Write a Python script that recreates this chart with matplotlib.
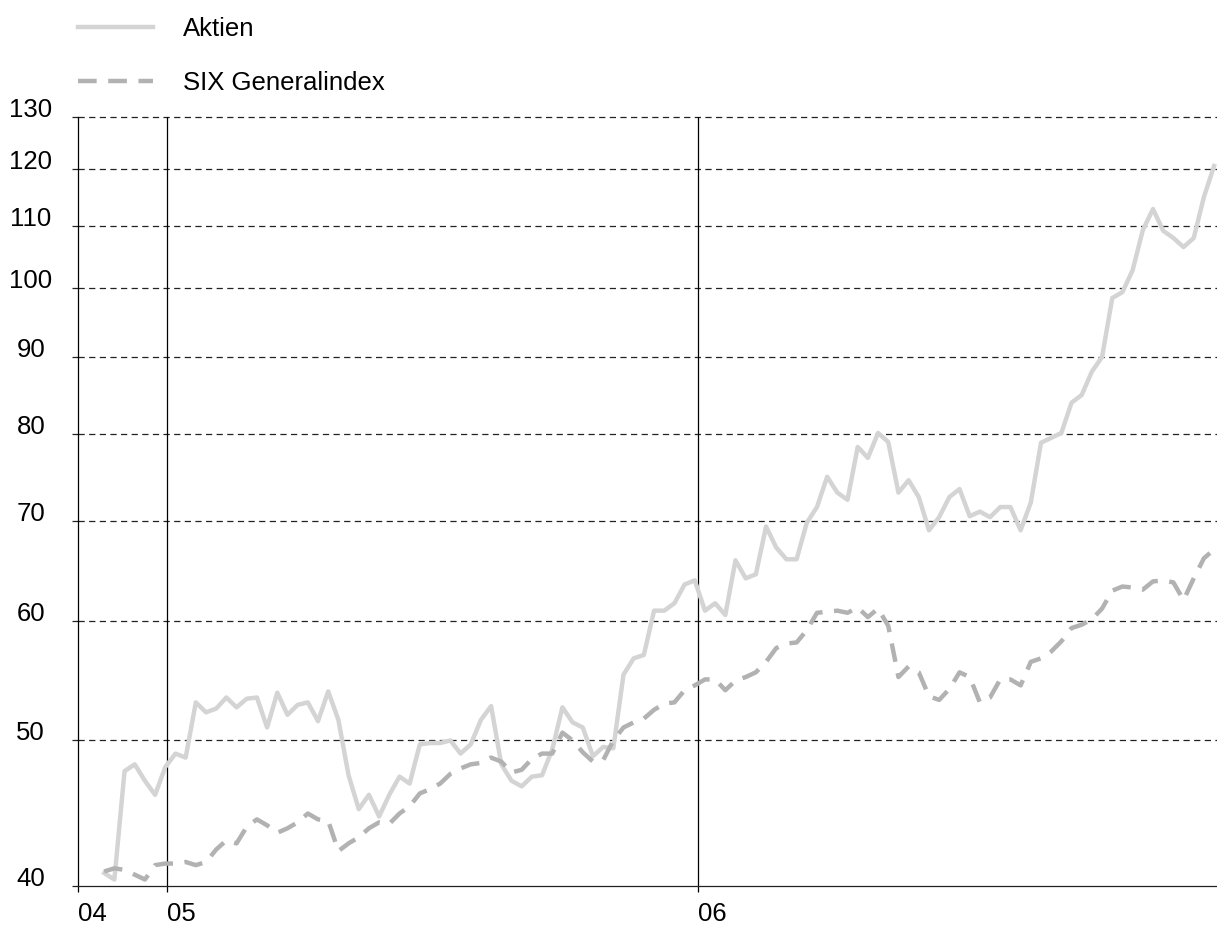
import numpy as np
import pandas as pd
import matplotlib
matplotlib.use('Agg')
import matplotlib.pyplot as plt
import matplotlib.dates as mdates

plt.rcParams['font.family'] = ['Liberation Sans', 'DejaVu Sans']

# weekly closes, indexed
dates = pd.date_range('2004-11-19', periods=110, freq='7D')

aktien = [40.8, 40.4, 47.7, 48.2, 47.0, 46.0, 48.0, 49.0, 48.7, 53.0,
          52.2, 52.5, 53.4, 52.6, 53.3, 53.4, 51.0, 53.8, 52.0, 52.8,
          53.0, 51.5, 53.9, 51.6, 47.4, 45.0, 46.0, 44.5, 46.0, 47.3,
          46.8, 49.7, 49.8, 49.8, 50.0, 49.0, 49.7, 51.6, 52.7, 48.2,
          47.0, 46.6, 47.3, 47.4, 49.3, 52.6, 51.4, 51.0, 48.8, 49.5,
          49.4, 55.3, 56.7, 57.0, 61.0, 61.0, 61.7, 63.5, 63.9, 61.0,
          61.7, 60.6, 65.9, 64.1, 64.5, 69.4, 67.2, 66.0, 66.0, 69.8,
          71.5, 74.9, 73.1, 72.3, 78.4, 77.1, 80.1, 79.0, 73.1, 74.5,
          72.6, 69.0, 70.4, 72.6, 73.5, 70.5, 71.0, 70.4, 71.5, 71.5,
          69.0, 72.0, 78.9, 79.5, 80.1, 83.9, 84.9, 88.0, 90.0, 98.5,
          99.4, 102.8, 109.3, 112.9, 109.2, 108.0, 106.5, 108.0, 115.0, 120.6]

six = [40.9, 41.1, 41.0, 40.7, 40.4, 41.3, 41.4, 41.4, 41.5, 41.3,
       41.5, 42.3, 42.9, 42.7, 43.8, 44.3, 43.9, 43.4, 43.7, 44.1,
       44.7, 44.3, 44.2, 42.2, 42.7, 43.1, 43.7, 44.1, 44.0, 44.7,
       45.2, 46.1, 46.4, 46.8, 47.5, 47.9, 48.2, 48.3, 48.7, 48.4,
       47.6, 47.8, 48.6, 49.0, 49.0, 50.6, 50.0, 49.1, 48.4, 48.5,
       50.0, 51.0, 51.4, 51.7, 52.4, 52.9, 53.0, 54.0, 54.4, 54.9,
       54.9, 54.0, 54.8, 55.1, 55.5, 56.4, 57.6, 58.0, 58.1, 59.2,
       60.8, 60.9, 61.0, 60.8, 61.3, 60.4, 61.2, 59.6, 55.1, 56.0,
       55.5, 53.5, 53.2, 54.1, 55.5, 55.1, 53.0, 53.4, 54.9, 54.9,
       54.4, 56.4, 56.7, 57.3, 58.2, 59.4, 59.7, 60.2, 61.2, 62.9,
       63.3, 63.2, 63.0, 63.8, 63.9, 63.7, 62.0, 64.1, 66.1, 67.0]

yticks = [40, 50, 60, 70, 80, 90, 100, 110, 120, 130]
xticks = [pd.Timestamp('2004-11-01'), pd.Timestamp('2005-01-01'), pd.Timestamp('2006-01-01')]
xlabels = ['04', '05', '06']
fs = 18.5

fig = plt.figure(figsize=(12.17, 9.26), dpi=100)
ax = fig.add_axes([78/1217, 1-886/926, 1-78/1217, (886-117)/926])

ax.plot(dates, aktien, color='#d4d4d4', lw=3.2, label='Aktien', zorder=3)
ax.plot(dates, six, color='#b2b2b2', lw=3.2, linestyle=(0, (4.2, 2.6)),
        label='SIX Generalindex', zorder=3)

ax.set_yscale('log')
ax.set_ylim(40, 130)
ax.set_xlim(pd.Timestamp('2004-11-01'), pd.Timestamp('2006-12-24'))

ax.yaxis.set_major_locator(matplotlib.ticker.FixedLocator(yticks))
ax.yaxis.set_minor_locator(matplotlib.ticker.NullLocator())
ax.set_yticklabels([str(v) for v in yticks])
for v in yticks[1:]:
    ax.axhline(v, color='#222222', lw=0.9, linestyle=(0, (5, 3.5)), clip_on=False, zorder=1)

ax.set_xticks(xticks)
ax.set_xticklabels(xlabels)
for d in xticks[1:]:
    ax.axvline(d, color='black', lw=0.9, zorder=1)

ax.tick_params(axis='y', length=4.5, width=0.9, color='#222222', labelsize=fs, pad=29.5)
ax.tick_params(axis='x', length=4.5, width=0.9, color='black', labelsize=fs, pad=7)
for lab in ax.get_yticklabels():
    lab.set_horizontalalignment('center')
    lab.set_verticalalignment('baseline')
for lab in ax.get_xticklabels():
    lab.set_horizontalalignment('left')

for s in ['top', 'right']:
    ax.spines[s].set_visible(False)
ax.spines['left'].set_linewidth(0.9)
ax.spines['left'].set_color('black')
ax.spines['bottom'].set_linewidth(0.9)
ax.spines['bottom'].set_color('#222222')

ax.legend(loc='upper left', bbox_to_anchor=(78/1217, 0.982), bbox_transform=fig.transFigure,
          frameon=False, fontsize=fs, handlelength=2.92, handletextpad=1.17,
          labelspacing=1.17, borderpad=0, borderaxespad=0)

plt.savefig('out.png', dpi=100)
plt.close()
